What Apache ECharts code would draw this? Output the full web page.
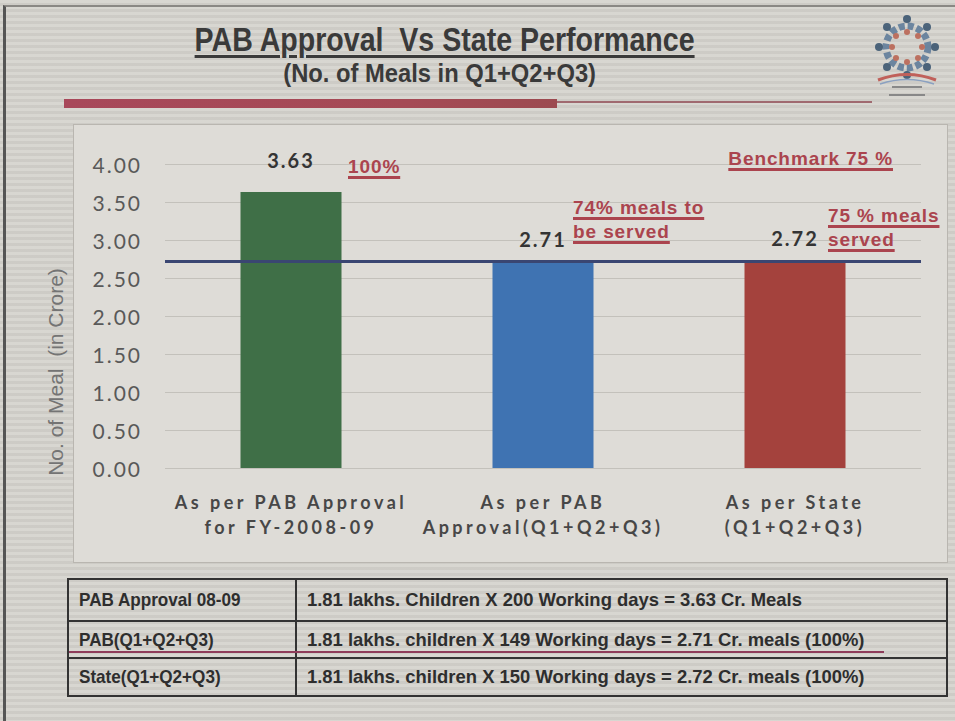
<!DOCTYPE html>
<html>
<head>
<meta charset="utf-8">
<script src="https://cdn.jsdelivr.net/npm/echarts@6/dist/echarts.min.js"></script>
<style>
  html, body { margin: 0; padding: 0; }
  body {
    width: 955px; height: 721px; position: relative; overflow: hidden;
    background: #d4d2cc repeating-linear-gradient(180deg, rgba(255,255,255,0.10) 0px, rgba(255,255,255,0.10) 3px, rgba(0,0,0,0.03) 3px, rgba(0,0,0,0.03) 6px);
    font-family: "Liberation Sans", Arial, sans-serif;
  }
  .frame { position: absolute; left: 3px; top: 5px; width: 952px; height: 716px; border-left: 3px solid #555; border-top: 2px solid #8a8884; }
  .panel { position: absolute; left: 73px; top: 124px; width: 873px; height: 437px; background: #dedcd7; border: 1px solid #b9b6b0; }
  #chart { position: absolute; left: 0; top: 0; width: 955px; height: 721px; }
  /* the excel chart text is spaced out a little */
  #chart text { letter-spacing: 2px; }
  #chart text[style*="18px"] { letter-spacing: 3.5px; }
  #chart text[style*="Liberation"] { letter-spacing: 0; }
  .title { position: absolute; left: 0; width: 890px; text-align: center; color: #3a3a3a; font-weight: bold; }
  .title span { display: inline-block; }
  .t1 { top: 20px; font-size: 34px; }
  .t1 span { transform: scaleX(0.84); text-decoration: underline; text-decoration-thickness: 3px; text-underline-offset: 4px; }
  .t2 { top: 59px; font-size: 25px; width: 880px; }
  .t2 span { transform: scaleX(0.95); }
  .bar1 { position: absolute; left: 64px; top: 99px; width: 493px; height: 9px; background: linear-gradient(90deg, #a8485a, #a54a55 70%, #9c4a50); }
  .bar2 { position: absolute; left: 557px; top: 101px; width: 315px; height: 2px; background: #a06a70; }
  .note { position: absolute; color: #ab444e; font-weight: bold; font-size: 19px; letter-spacing: 0.9px; line-height: 24px; text-decoration: underline; text-decoration-thickness: 2.5px; text-underline-offset: 3px; white-space: nowrap; }
  table { position: absolute; left: 67px; top: 578px; width: 881px; border-collapse: collapse; }
  td { border: 2px solid #333; font-weight: bold; font-size: 19px; color: #2e2e2e; padding: 0 0 0 10px; white-space: nowrap; }
  td span { display: inline-block; transform: scaleX(0.97); transform-origin: left center; }
  td.c1 { width: 216px; }
  td.c1 span { transform: scaleX(0.9); }
  .uline { position: absolute; left: 69px; top: 651px; width: 815px; height: 2px; background: #8e3c5a; }
  .logo { position: absolute; left: 867px; top: 7px; }
</style>
</head>
<body>
<div class="frame"></div>
<div class="panel"></div>
<div class="title t1"><span>PAB Approval&nbsp; Vs State Performance</span></div>
<div class="title t2"><span>(No. of Meals in Q1+Q2+Q3)</span></div>
<div class="bar1"></div>
<div class="bar2"></div>
<svg class="logo" width="80" height="95" viewBox="0 0 80 95">
  <g transform="translate(40,40)" opacity="0.85">
    <circle r="21" fill="none" stroke="#5a7898" stroke-width="7" stroke-dasharray="6 3"/>
    <g fill="#34506c">
      <circle cx="0" cy="-28" r="4"/><circle cx="20" cy="-20" r="4"/><circle cx="28" cy="0" r="4"/><circle cx="20" cy="20" r="4"/>
      <circle cx="0" cy="28" r="4"/><circle cx="-20" cy="20" r="4"/><circle cx="-28" cy="0" r="4"/><circle cx="-20" cy="-20" r="4"/>
    </g>
    <g fill="#b9604e">
      <circle cx="0" cy="-15" r="3"/><circle cx="11" cy="-11" r="3"/><circle cx="15" cy="0" r="3"/><circle cx="11" cy="11" r="3"/>
      <circle cx="0" cy="15" r="3"/><circle cx="-11" cy="11" r="3"/><circle cx="-15" cy="0" r="3"/><circle cx="-11" cy="-11" r="3"/>
    </g>
  </g>
  <path d="M11 73 Q40 62 69 73" fill="none" stroke="#c0605a" stroke-width="3"/>
  <path d="M13 77 Q40 68 67 77" fill="none" stroke="#8aa0c0" stroke-width="1.5"/>
  <rect x="25" y="79" width="30" height="2" fill="#888"/><rect x="22" y="87" width="36" height="2" fill="#888"/>
</svg>
<div id="chart"></div>
<div class="note" style="left:348px; top:155px;">100%</div>
<div class="note" style="right:62px; top:147px;">Benchmark 75 %</div>
<div class="note" style="left:573px; top:196px;">74% meals to<br>be served</div>
<div class="note" style="left:828px; top:204px;">75 % meals<br>served</div>
<table>
  <tr style="height:42px"><td class="c1"><span>PAB Approval 08-09</span></td><td><span>1.81 lakhs. Children X 200 Working days = 3.63 Cr. Meals</span></td></tr>
  <tr style="height:37px"><td class="c1"><span>PAB(Q1+Q2+Q3)</span></td><td><span>1.81 lakhs. children X 149 Working days = 2.71 Cr. meals (100%)</span></td></tr>
  <tr style="height:38px"><td class="c1"><span>State(Q1+Q2+Q3)</span></td><td><span>1.81 lakhs. children X 150 Working days = 2.72 Cr. meals (100%)</span></td></tr>
</table>
<div class="uline"></div>
<script>
// data
var categories = ['As per PAB Approval\nfor FY-2008-09', 'As per PAB\nApproval(Q1+Q2+Q3)', 'As per State\n(Q1+Q2+Q3)'];
var meals = [3.63, 2.71, 2.72];
var barColors = ['#3f6f47', '#3f73b2', '#a4423d'];
var labelGaps = [22, 13, 13];
var benchmark = 2.72;
var yMin = 0, yMax = 4, yStep = 0.5;

var chart = echarts.init(document.getElementById('chart'), null, { renderer: 'svg' });

var barData = meals.map(function (v, i) {
  return { value: v, itemStyle: { color: barColors[i] }, label: { distance: labelGaps[i] } };
});

var option = {
  backgroundColor: 'transparent',
  animation: false,
  grid: { left: 165, right: 34, top: 164, height: 304 },
  xAxis: {
    type: 'category', data: categories,
    axisLine: { show: false }, axisTick: { show: false },
    axisLabel: {
      margin: 21, lineHeight: 25, color: '#474747',
      fontFamily: 'Lato', fontWeight: 'bold', fontSize: 18
    }
  },
  yAxis: {
    type: 'value', min: yMin, max: yMax, interval: yStep,
    axisLine: { show: false }, axisTick: { show: false },
    axisLabel: {
      margin: 23, color: '#595959', fontFamily: 'Lato', fontSize: 21,
      formatter: function (v) { return v.toFixed(2); }
    },
    splitLine: { lineStyle: { color: '#c3c1bb', width: 1 } }
  },
  series: [
    {
      type: 'bar', barWidth: 101,
      data: barData,
      label: {
        show: true, position: 'top', color: '#343434',
        fontFamily: 'Lato', fontWeight: 'bold', fontSize: 20,
        formatter: function (p) { return p.value.toFixed(2); }
      },
      markLine: {
        symbol: 'none', silent: true, label: { show: false },
        lineStyle: { color: '#3a4672', width: 3, type: 'solid' },
        data: [{ yAxis: benchmark }]
      }
    }
  ],
  graphic: [
    {
      type: 'text', x: 55, y: 372, rotation: Math.PI / 2,
      style: {
        text: 'No. of Meal  (in Crore)', fill: '#747474',
        font: '21px "Liberation Sans", Arial, sans-serif',
        align: 'center', verticalAlign: 'middle'
      }
    }
  ]
};

chart.setOption(option);
window.addEventListener('resize', function () { chart.resize(); });
</script>
</body>
</html>
